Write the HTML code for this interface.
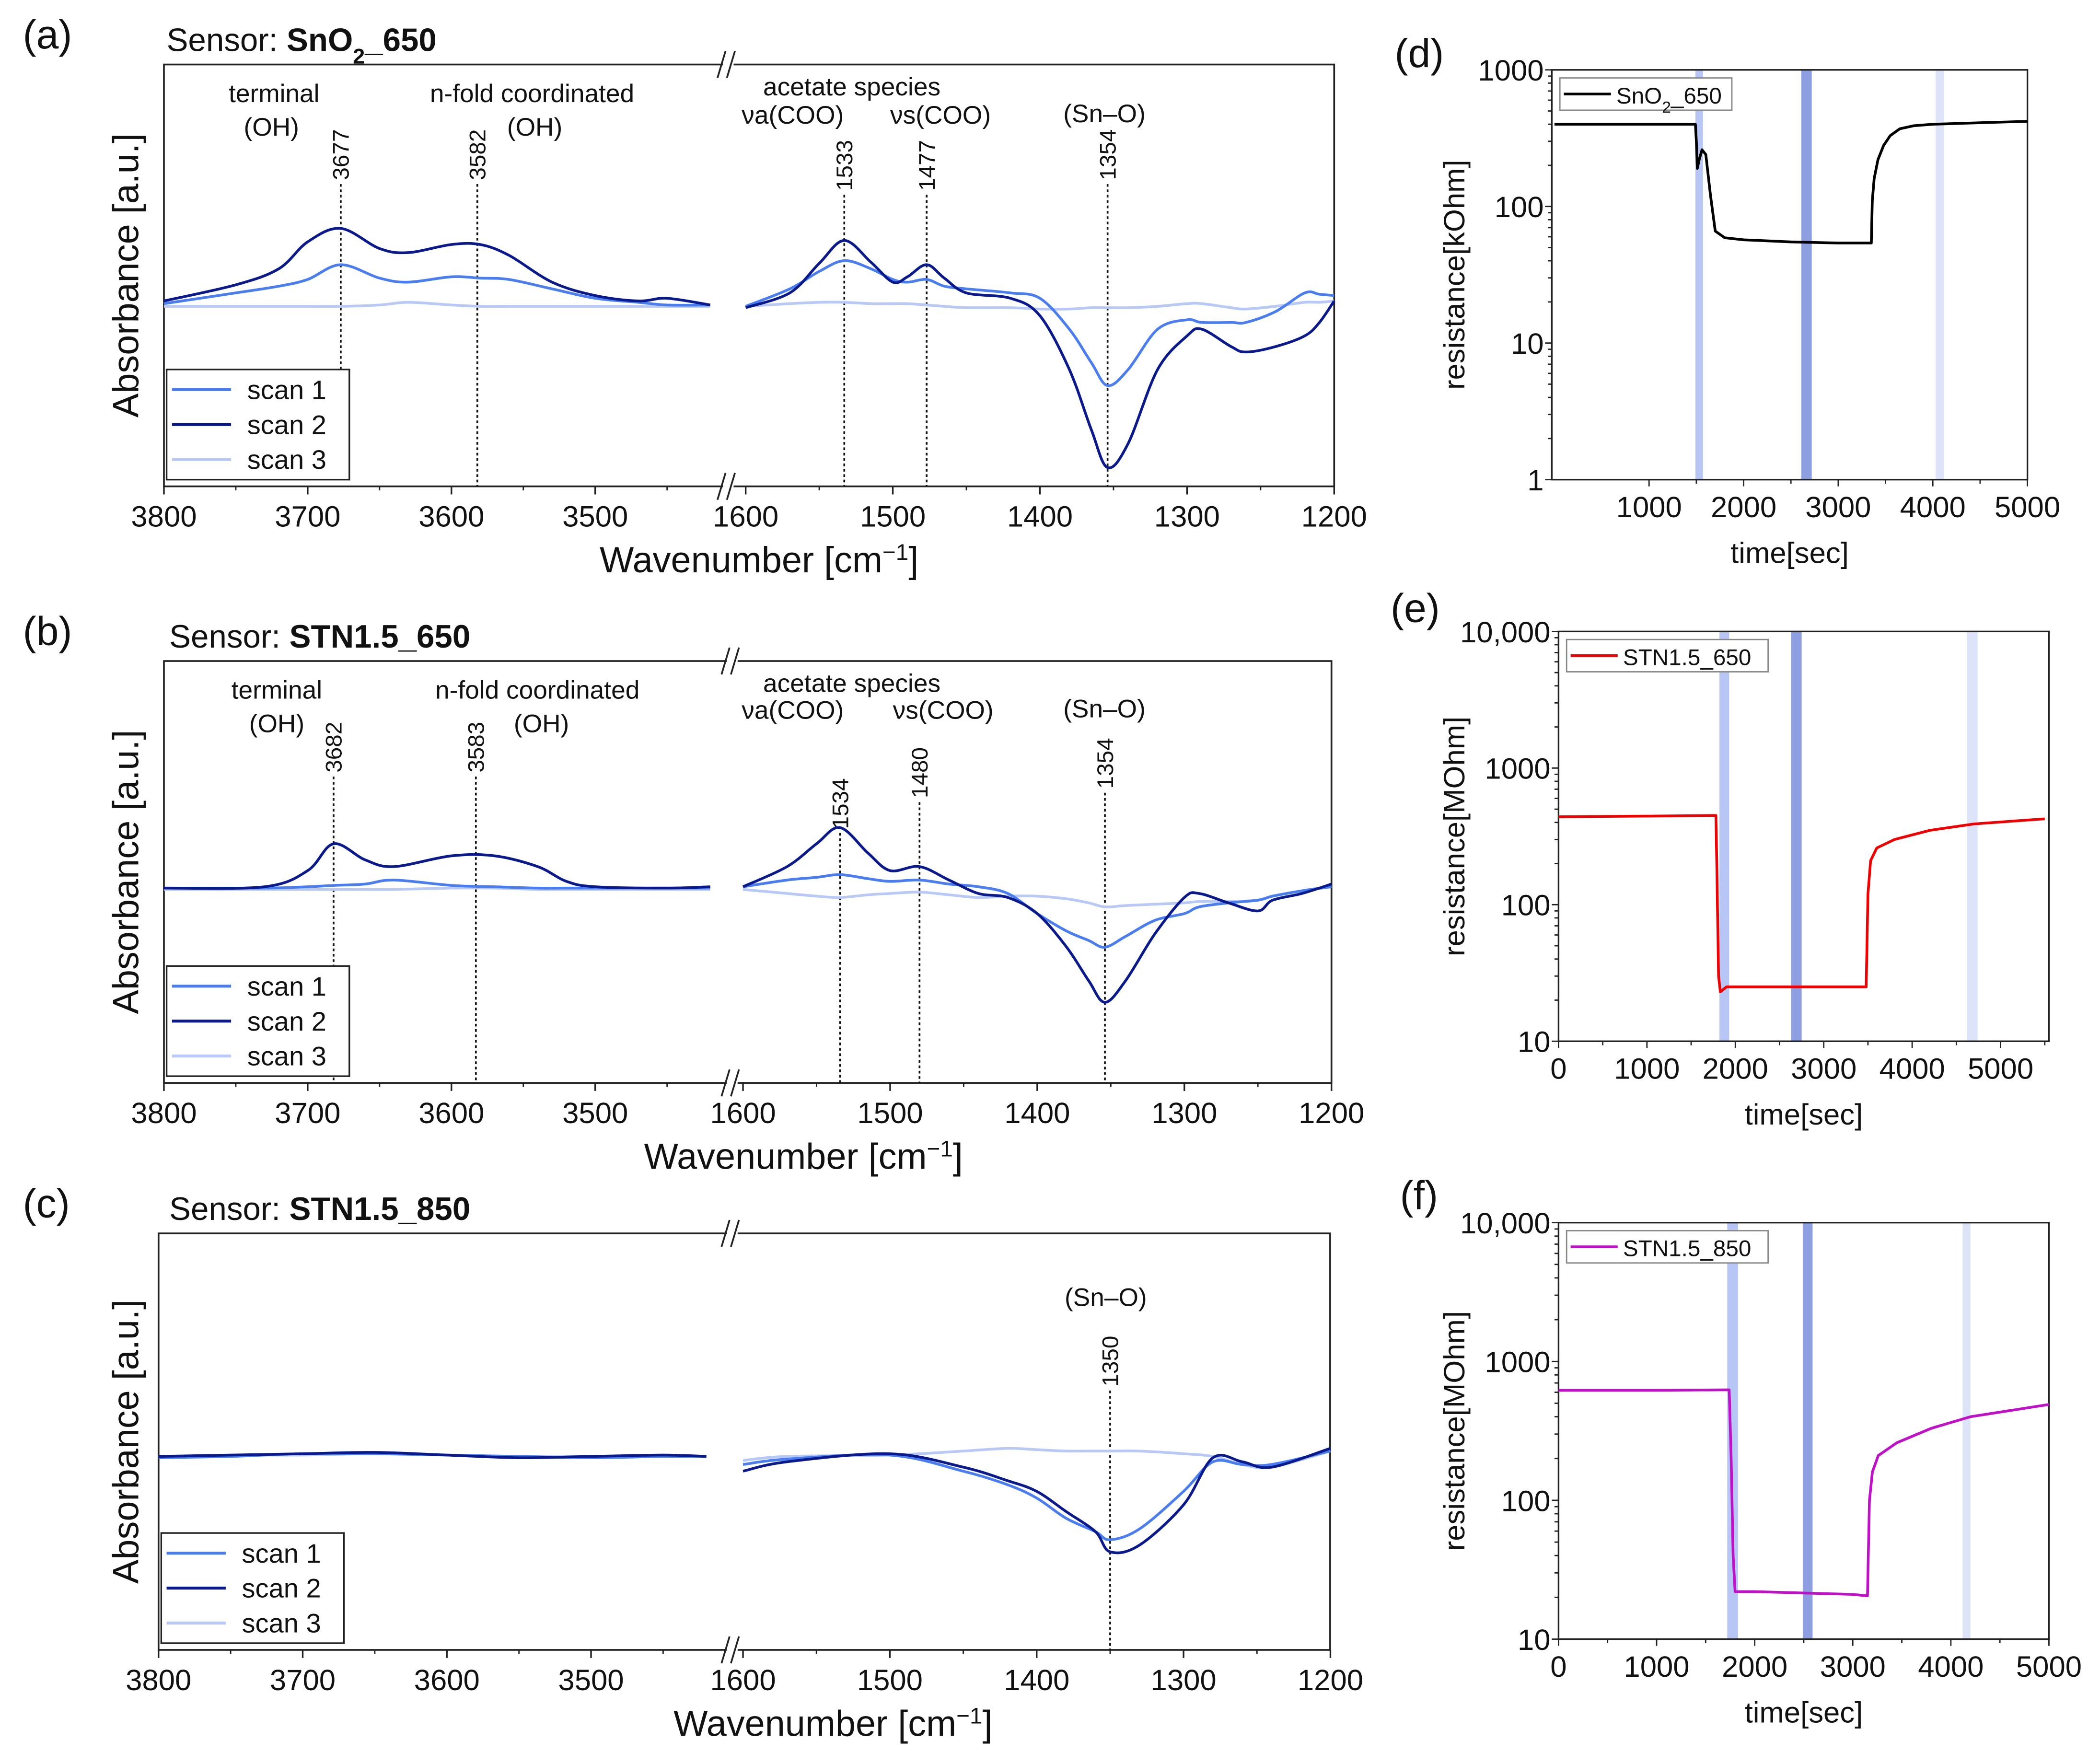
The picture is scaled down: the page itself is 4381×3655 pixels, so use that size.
<!DOCTYPE html>
<html><head><meta charset="utf-8"><style>
html,body{margin:0;padding:0;background:#fff;}
svg{display:block;font-family:"Liberation Sans",sans-serif;}
</style></head><body>
<svg id="fig" width="4381" height="3655" viewBox="0 0 1563 1304" xmlns="http://www.w3.org/2000/svg">
<rect x="0" y="0" width="1563" height="1304" fill="#fff"/>
</svg>
<script>
// ---------- IR spectra data (absorbance, arbitrary units) ----------
const aWnL=[3800,3750,3720,3700,3677,3650,3630,3600,3580,3560,3530,3500,3470,3450,3420];
const aS2L=[3,15,27,47,57,42,39,45,45,37,17,7,3,5,0];
const aS1L=[1,9,14,19,30,20,17,21,20,19,12,5,2,0,0];
const aS3L=[-1,-1,-1,-1,-1,0,2,0,-1,-1,-1,-1,-1,-1,-1];
const aWnR=[1600,1570,1550,1533,1515,1500,1490,1477,1465,1450,1420,1400,1380,1365,1354,1340,1320,1300,1290,1270,1260,1240,1220,1210,1200];
const aS2R=[-2,9,31,48,32,17,21,30,20,9,5,-8,-48,-93,-121,-103,-48,-23,-18,-31,-35,-31,-23,-13,3];
const aS1R=[-1,12,25,33,27,19,17,19,14,12,9,5,-18,-43,-60,-48,-18,-11,-13,-13,-13,-5,9,8,7];
const aS3R=[-1,1,2,2,1,1,1,0,-1,-2,-2,-3,-3,-2,-2,-2,-1,1,1,-2,-3,-1,2,2,3];

const bWnL=[3800,3730,3700,3682,3660,3640,3600,3570,3540,3520,3500,3450,3420];
const bS2L=[0,1,13,33,21,16,24,24,16,5,1,0,1];
const bS1L=[0,0,1,2,3,6,2,1,0,0,0,0,0];
const bS3L=[-1,-1,-1,-1,-1,-1,0,0,-1,-1,-1,-1,-1];
const bWnR=[1600,1570,1550,1534,1515,1500,1480,1460,1440,1420,1400,1380,1365,1354,1340,1320,1300,1290,1270,1250,1240,1220,1200];
const bS2R=[1,16,33,45,26,13,16,6,-4,-7,-19,-44,-69,-85,-69,-34,-7,-4,-11,-17,-9,-4,3];
const bS1R=[1,6,8,10,7,5,6,3,1,-4,-19,-32,-39,-44,-36,-24,-19,-14,-11,-9,-6,-2,1];
const bS3R=[-1,-4,-6,-7,-5,-4,-3,-5,-7,-6,-6,-8,-11,-14,-13,-12,-11,-10,-10,-9,-6,-2,1];

const cWnL=[3800,3750,3700,3650,3600,3550,3500,3450,3420];
const cS2L=[0,1,2,3,1,-1,0,1,0];
const cS1L=[-1,0,2,2,1,0,-1,0,0];
const cS3L=[0,1,1,2,1,0,0,1,0];
const cWnR=[1600,1570,1500,1450,1420,1400,1380,1360,1350,1330,1300,1280,1260,1240,1200];
const cS2R=[-11,-4,2,-8,-18,-26,-41,-56,-71,-66,-36,-1,-4,-8,6];
const cS1R=[-6,-2,1,-11,-21,-31,-46,-56,-62,-54,-26,-4,-6,-6,4];
const cS3R=[-3,0,1,4,6,5,4,4,4,4,2,0,-6,-8,4];

// ---------- resistance data ----------
const dT=[0,1000,1490,1500,1510,1530,1560,1600,1650,1700,1800,2000,2500,3000,3350,3360,3380,3420,3480,3550,3650,3800,4000,4500,5000];
const dR=[400,400,400,300,190,220,260,240,120,66,59,57,55,54,54,110,160,220,280,330,370,390,400,410,420];
const eT=[0,1000,1780,1790,1810,1830,1900,2500,3000,3480,3500,3530,3600,3800,4200,4700,5500];
const eR=[440,445,450,200,30,23,25,25,25,25,120,210,260,300,350,390,425];
const fT=[0,1000,1740,1760,1780,1800,2000,2500,3000,3150,3170,3200,3260,3450,3800,4200,5000];
const fR=[620,620,625,200,40,22,22,21.5,21,20.5,100,160,210,260,330,400,490];

const dTicksX=[1000,2000,3000,4000,5000];
const dTicksY=[1,10,100,1000];
const dTickLblY=["1","10","100","1000"];
const efTicksX=[0,1000,2000,3000,4000,5000];
const efTicksY=[10,100,1000,10000];
const efTickLblY=["10","100","1000","10,000"];
const irTicksL=[3800,3700,3600,3500];
const irTicksR=[1600,1500,1400,1300,1200];

const NS="http://www.w3.org/2000/svg";
const svg=document.getElementById('fig');
function mk(tag,attrs,parent){const e=document.createElementNS(NS,tag);for(const k in attrs)e.setAttribute(k,attrs[k]);(parent||svg).appendChild(e);return e;}
function txt(s,x,y,size,opts,parent){opts=opts||{};const t=mk('text',{x:x,y:y,'font-size':size,'text-anchor':opts.anchor||'start',fill:'#111'},parent);if(opts.weight)t.setAttribute('font-weight',opts.weight);if(opts.style)t.setAttribute('font-style',opts.style);if(opts.rot)t.setAttribute('transform','rotate('+opts.rot+' '+x+' '+y+')');t.textContent=s;return t;}
function pathFrom(xs,ys,fx,fy){let d='';for(let i=0;i<xs.length;i++){d+=(i?'L':'M')+fx(xs[i]).toFixed(2)+','+fy(ys[i]).toFixed(2);}return d;}
function smoothFrom(xs,ys,fx,fy){
  const P=xs.map((x,i)=>[fx(x),fy(ys[i])]);
  let d='M'+P[0][0].toFixed(2)+','+P[0][1].toFixed(2);
  for(let i=0;i<P.length-1;i++){
    const p0=P[Math.max(0,i-1)],p1=P[i],p2=P[i+1],p3=P[Math.min(P.length-1,i+2)];
    const c1=[p1[0]+(p2[0]-p0[0])/6,p1[1]+(p2[1]-p0[1])/6];
    const c2=[p2[0]-(p3[0]-p1[0])/6,p2[1]-(p3[1]-p1[1])/6];
    d+='C'+c1[0].toFixed(2)+','+c1[1].toFixed(2)+' '+c2[0].toFixed(2)+','+c2[1].toFixed(2)+' '+p2[0].toFixed(2)+','+p2[1].toFixed(2);
  }
  return d;
}

const C1='#4a7df0',C2='#0a1a8c',C3='#b9c9f7';

function irPanel(p){
  const g=mk('g',{});
  
  
  const fL=w=>p.x0+(3800-w)*p.kL;
  const fR=w=>p.xR0+(1600-w)*p.kR;
  const fy=v=>p.base-v;
  mk('rect',{x:p.x0,y:p.top,width:p.x1-p.x0,height:p.bot-p.top,fill:'none',stroke:'#222','stroke-width':1.3},g);
  mk('rect',{x:p.brk-4,y:p.top-3,width:8,height:6,fill:'#fff'},g);
  mk('rect',{x:p.brk-4,y:p.bot-3,width:8,height:6,fill:'#fff'},g);
  for(const yy of [p.top,p.bot]){
    mk('line',{x1:p.brk-8,y1:yy+10,x2:p.brk-2,y2:yy-10,stroke:'#222','stroke-width':1.3},g);
    mk('line',{x1:p.brk-1,y1:yy+10,x2:p.brk+5,y2:yy-10,stroke:'#222','stroke-width':1.3},g);
  }
  const tl=mk('g',{},g);
  irTicksL.forEach(w=>{const x=fL(w);mk('line',{x1:x,y1:p.bot,x2:x,y2:p.bot+6,stroke:'#222','stroke-width':1.2},tl);txt(String(w),x,p.bot+30,22,{anchor:'middle'},tl);});
  [3750,3650,3550,3450].forEach(w=>{const x=fL(w);mk('line',{x1:x,y1:p.bot,x2:x,y2:p.bot+3,stroke:'#222'},tl);});
  irTicksR.forEach(w=>{const x=fR(w);mk('line',{x1:x,y1:p.bot,x2:x,y2:p.bot+6,stroke:'#222','stroke-width':1.2},tl);txt(String(w),x,p.bot+30,22,{anchor:'middle'},tl);});
  [1550,1450,1350,1250].forEach(w=>{const x=fR(w);mk('line',{x1:x,y1:p.bot,x2:x,y2:p.bot+3,stroke:'#222'},tl);});
  const xt=txt('Wavenumber [cm',p.xtX-12,p.bot+64,27,{anchor:'middle'},g);
  
  const ts=mk('tspan',{'baseline-shift':'super','font-size':17},xt);ts.textContent='−1';
  const tr=mk('tspan',{},xt);tr.textContent=']';
  const yt=txt('Absorbance [a.u.]',103,(p.top+p.bot)/2,27,{anchor:'middle',rot:-90},g);
  
  const pl=txt(p.letter,17,p.top-12,30,{},g);
  const tt=txt('Sensor: ',p.titleX,p.top-10,24,{},g);
  p.title(tt);
  p.marks.forEach(m=>{
    const x=m.side=='L'?fL(m.w):fR(m.w);
    const l=mk('line',{x1:x,y1:m.y0,x2:x,y2:m.y1,stroke:'#111','stroke-width':1.3,'stroke-dasharray':'2,2'},g);
    
    txt(m.lbl,x+6,m.y0-3,17,{rot:-90},g);
  });
  p.labels.forEach(a=>{txt(a[0],a[1],a[2],19,{anchor:'middle',style:a[3]},g);});
  const ser=[[p.s1L,p.s1R,C1,'scan-1'],[p.s2L,p.s2R,C2,'scan-2'],[p.s3L,p.s3R,C3,'scan-3']];
  [2,0,1].forEach(i=>{
    const s=ser[i];
    const a=mk('path',{d:smoothFrom(p.wL,s[0],fL,fy),fill:'none',stroke:s[2],'stroke-width':2,'stroke-linejoin':'round'},g);
    
    const b=mk('path',{d:smoothFrom(p.wR,s[1],fR,fy),fill:'none',stroke:s[2],'stroke-width':2,'stroke-linejoin':'round'},g);
    
  });
  const lg=mk('g',{},g);
  mk('rect',{x:p.x0+2,y:p.bot-87,width:136,height:82,fill:'#fff',stroke:'#222','stroke-width':1.2},lg);
  ser.forEach((s,i)=>{const yy=p.bot-72+i*26;
    const e=mk('line',{x1:p.x0+6,y1:yy,x2:p.x0+50,y2:yy,stroke:s[2],'stroke-width':2.2},lg);
    
    txt('scan '+(i+1),p.x0+62,yy+7,20,{},lg);});
}
function sub(t,parts){parts.forEach(pt=>{const s=mk('tspan',pt[1]||{},t);s.textContent=pt[0];});}

irPanel({name:'panel-a-spectra',letter:'(a)',x0:122,x1:993,top:48,bot:362,brk:542,kL:1.07,xR0:555,kR:1.095,base:227,xtX:577,titleX:124,
 wL:aWnL,s1L:aS1L,s2L:aS2L,s3L:aS3L,wR:aWnR,s1R:aS1R,s2R:aS2R,s3R:aS3R,
 title:t=>sub(t,[['SnO',{'font-weight':'bold'}],['2',{'font-weight':'bold','baseline-shift':'sub','font-size':16}],['_650',{'font-weight':'bold'}]]),
 marks:[{side:'L',w:3677,lbl:'3677',y0:137,y1:275},{side:'L',w:3582,lbl:'3582',y0:137,y1:362},{side:'R',w:1533,lbl:'1533',y0:145,y1:362},{side:'R',w:1477,lbl:'1477',y0:145,y1:362},{side:'R',w:1354,lbl:'1354',y0:137,y1:362}],
 labels:[['terminal',204,76],['(OH)',202,101],['n-fold coordinated',396,76],['(OH)',398,101],['acetate species',634,71],['νa(COO)',590,92],['νs(COO)',700,92],['(Sn–O)',822,91]]});
irPanel({name:'panel-b-spectra',letter:'(b)',x0:122,x1:991,top:492,bot:806,brk:545,kL:1.07,xR0:553,kR:1.095,base:661,xtX:610,titleX:126,
 wL:bWnL,s1L:bS1L,s2L:bS2L,s3L:bS3L,wR:bWnR,s1R:bS1R,s2R:bS2R,s3R:bS3R,
 title:t=>sub(t,[['STN1.5_650',{'font-weight':'bold'}]]),
 marks:[{side:'L',w:3682,lbl:'3682',y0:578,y1:806},{side:'L',w:3583,lbl:'3583',y0:578,y1:806},{side:'R',w:1534,lbl:'1534',y0:620,y1:806},{side:'R',w:1480,lbl:'1480',y0:597,y1:806},{side:'R',w:1354,lbl:'1354',y0:590,y1:806}],
 labels:[['terminal',206,520],['(OH)',206,545],['n-fold coordinated',400,520],['(OH)',403,545],['acetate species',634,515],['νa(COO)',590,535],['νs(COO)',702,535],['(Sn–O)',822,534]]});
irPanel({name:'panel-c-spectra',letter:'(c)',x0:118,x1:990,top:918,bot:1228,brk:545,kL:1.073,xR0:553,kR:1.093,base:1084,xtX:632,titleX:126,
 wL:cWnL,s1L:cS1L,s2L:cS2L,s3L:cS3L,wR:cWnR,s1R:cS1R,s2R:cS2R,s3R:cS3R,
 title:t=>sub(t,[['STN1.5_850',{'font-weight':'bold'}]]),
 marks:[{side:'R',w:1350,lbl:'1350',y0:1035,y1:1228}],
 labels:[['(Sn–O)',823,972]]});

function resPanel(p){
  const g=mk('g',{});
  
  
  const fx=t=>p.x0+(t-p.t0)*(p.xk);
  const ly=Math.log10;
  const fy=r=>p.bot-(ly(r)-ly(p.rmin))/(ly(p.rmax)-ly(p.rmin))*(p.bot-p.top);
  p.shades.forEach((s,i)=>{const r=mk('rect',{x:fx(s[0]),y:p.top,width:fx(s[1])-fx(s[0]),height:p.bot-p.top,fill:s[2]},g);
    });
  mk('rect',{x:p.x0,y:p.top,width:p.x1-p.x0,height:p.bot-p.top,fill:'none',stroke:'#222','stroke-width':1.2},g);
  const ax=mk('g',{},g);
  p.tx.forEach(t=>{const x=fx(t);mk('line',{x1:x,y1:p.bot,x2:x,y2:p.bot+5,stroke:'#222'},ax);txt(String(t),x,p.bot+28,22,{anchor:'middle'},ax);
    const xm=fx(t+500);if(xm<p.x1)mk('line',{x1:xm,y1:p.bot,x2:xm,y2:p.bot+3,stroke:'#222'},ax);});
  p.ty.forEach((v,i)=>{const y=fy(v);mk('line',{x1:p.x0-5,y1:y,x2:p.x0,y2:y,stroke:'#222'},ax);txt(p.tyl[i],p.x0-6,y+8,22,{anchor:'end'},ax);
    if(i<p.ty.length-1)for(let k=2;k<10;k++){const yy=fy(v*k);mk('line',{x1:p.x0-3,y1:yy,x2:p.x0,y2:yy,stroke:'#222'},ax);}});
  const line=mk('path',{d:pathFrom(p.t,p.r,fx,fy),fill:'none',stroke:p.color,'stroke-width':2,'stroke-linejoin':'round'},g);
  
  const lg=mk('g',{},g);
  mk('rect',{x:p.x0+6,y:p.top+6,width:p.lgw,height:24,fill:'#fff',stroke:'#888'},lg);
  mk('line',{x1:p.x0+9,y1:p.top+18,x2:p.x0+44,y2:p.top+18,stroke:p.color,'stroke-width':2},lg);
  const lt=txt('',p.x0+48,p.top+25,17,{},lg);p.leg(lt);
  const xt=txt('time[sec]',(p.x0+p.x1)/2,p.bot+62,22,{anchor:'middle'},g);
  const yt=txt(p.ylab,p.yx,(p.top+p.bot)/2,22,{anchor:'middle',rot:-90},g);
  const pl=txt(p.letter,p.lx,p.ly,30,{},g);
}
const SH1='#b8c6f5',SH2='#8d9fe0',SH3='#dde4fa';
resPanel({name:'panel-d-resistance',x0:1155,x1:1509,top:52,bot:357,t0:-28,xk:0.0704,rmin:1,rmax:1000,
 shades:[[1490,1570,SH1],[2610,2720,SH2],[4030,4120,SH3]],tx:dTicksX,ty:dTicksY,tyl:dTickLblY,t:dT,r:dR,color:'#000',lgw:128,
 leg:t=>sub(t,[['SnO'],['2',{'baseline-shift':'sub','font-size':12}],['_650']]),ylab:'resistance[kOhm]',yx:1090,letter:'(d)',lx:1038,ly:50});
resPanel({name:'panel-e-resistance',x0:1160,x1:1525,top:470,bot:775,t0:0,xk:0.0658,rmin:10,rmax:10000,
 shades:[[1820,1930,SH1],[2630,2750,SH2],[4620,4740,SH3]],tx:efTicksX,ty:efTicksY,tyl:efTickLblY,t:eT,r:eR,color:'#f00000',lgw:150,
 leg:t=>sub(t,[['STN1.5_650']]),ylab:'resistance[MOhm]',yx:1090,letter:'(e)',lx:1035,ly:463});
resPanel({name:'panel-f-resistance',x0:1160,x1:1525,top:910,bot:1220,t0:0,xk:0.073,rmin:10,rmax:10000,
 shades:[[1720,1830,SH1],[2490,2590,SH2],[4120,4200,SH3]],tx:efTicksX,ty:efTicksY,tyl:efTickLblY,t:fT,r:fR,color:'#c010c8',lgw:150,
 leg:t=>sub(t,[['STN1.5_850']]),ylab:'resistance[MOhm]',yx:1090,letter:'(f)',lx:1042,ly:900});
</script>
</body></html>
